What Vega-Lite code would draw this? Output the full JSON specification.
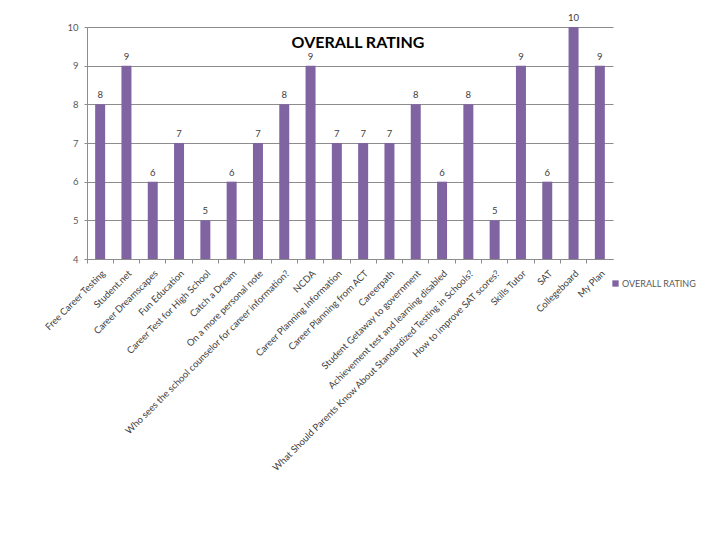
{
  "$schema": "https://vega.github.io/schema/vega-lite/v6.json",
  "autosize": "none",
  "width": 526,
  "height": 232,
  "padding": {"left": 87, "top": 27, "right": 107, "bottom": 281},
  "background": "white",
  "title": {
    "text": "OVERALL RATING",
    "font": "Lato",
    "fontSize": 16,
    "fontWeight": "bold",
    "color": "#000000",
    "frame": "group",
    "offset": -21,
    "dy": 17,
    "dx": 8,
    "anchor": "middle"
  },
  "data": {
    "values": [
      {"topic": "Free Career Testing", "rating": 8},
      {"topic": "Student.net", "rating": 9},
      {"topic": "Career Dreamscapes", "rating": 6},
      {"topic": "Fun Education", "rating": 7},
      {"topic": "Career Test for High School", "rating": 5},
      {"topic": "Catch a Dream", "rating": 6},
      {"topic": "On a more personal note", "rating": 7},
      {"topic": "Who sees the school counselor for career information?", "rating": 8},
      {"topic": "NCDA", "rating": 9},
      {"topic": "Career Planning Information", "rating": 7},
      {"topic": "Career Planning from ACT", "rating": 7},
      {"topic": "Careerpath", "rating": 7},
      {"topic": "Student Getaway to government", "rating": 8},
      {"topic": "Achievement test and learning disabled", "rating": 6},
      {"topic": "What Should Parents Know About Standardized Testing in Schools?", "rating": 8},
      {"topic": "How to improve SAT scores?", "rating": 5},
      {"topic": "Skills Tutor", "rating": 9},
      {"topic": "SAT", "rating": 6},
      {"topic": "Collegeboard", "rating": 10},
      {"topic": "My Plan", "rating": 9}
    ]
  },
  "encoding": {
    "x": {
      "field": "topic",
      "type": "nominal",
      "sort": null,
      "scale": {"paddingInner": 0, "paddingOuter": 0},
      "title": null,
      "axis": {
        "labelAngle": -45,
        "labelFont": "Lato",
        "labelFontSize": 9.5,
        "labelColor": "#404040",
        "labelLimit": 400,
        "bandPosition": 0,
        "ticks": true,
        "tickSize": 4,
        "tickColor": "#8c8c8c",
        "domainColor": "#8c8c8c",
        "labelPadding": 5
      }
    },
    "y": {
      "field": "rating",
      "type": "quantitative",
      "scale": {"domain": [4, 10], "zero": false, "clamp": true},
      "title": null,
      "axis": {
        "values": [4, 5, 6, 7, 8, 9, 10],
        "grid": true,
        "gridColor": "#8c8c8c",
        "gridWidth": 1,
        "domainColor": "#8c8c8c",
        "tickColor": "#8c8c8c",
        "tickSize": 3,
        "labelFont": "Lato",
        "labelFontSize": 9.5,
        "labelColor": "#595959",
        "labelPadding": 6
      }
    }
  },
  "layer": [
    {
      "mark": {"type": "bar", "color": "#8064A2", "width": {"band": 0.38}},
      "encoding": {
        "color": {
          "datum": "OVERALL RATING",
          "scale": {"range": ["#8064A2"]},
          "legend": {
            "title": null,
            "orient": "none",
            "legendX": 524,
            "legendY": 252,
            "symbolType": "square",
            "symbolSize": 40,
            "symbolStrokeWidth": 0,
            "labelFont": "Lato",
            "labelFontSize": 9,
            "labelColor": "#595959",
            "labelOffset": 2
          }
        }
      }
    },
    {
      "mark": {"type": "text", "dy": -9, "font": "Lato", "fontSize": 9.5, "color": "#404040"},
      "encoding": {
        "text": {"field": "rating", "type": "quantitative"}
      }
    }
  ],
  "config": {
    "view": {"stroke": null}
  }
}
